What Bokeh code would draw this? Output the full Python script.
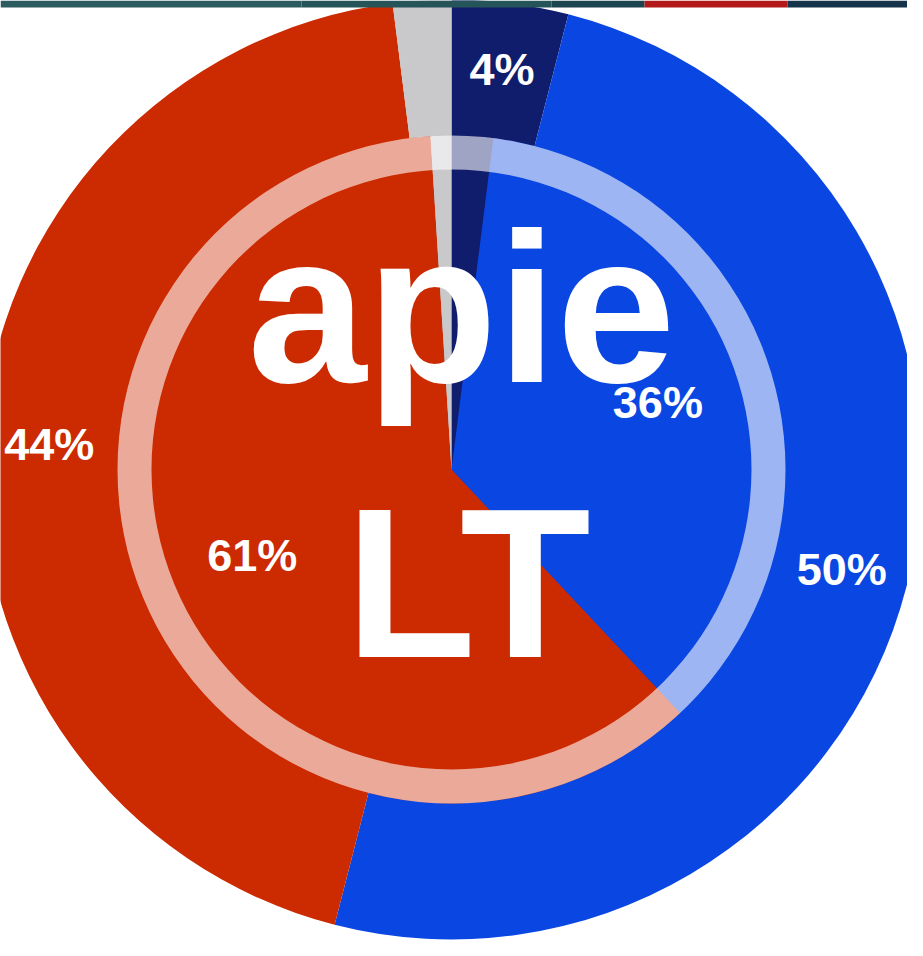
import math
from bokeh.plotting import figure
from bokeh.models import Range1d, ColumnDataSource
from bokeh.core.properties import value
from bokeh.embed import file_html
from bokeh.resources import INLINE

# ---- data ----
outer_names = ["Navy", "Blue", "Red", "Grey"]
outer_values = [4, 50, 44, 2]
outer_labels = ["4%", "50%", "44%", ""]
inner_names = ["Navy", "Blue", "Red", "Grey"]
inner_values = [2, 36, 61, 1]
inner_labels = ["", "36%", "61%", ""]
slice_colors = {"Navy": "#101c6c", "Blue": "#0a47e2", "Red": "#cc2a00", "Grey": "#c9c9cc"}
title_lines = ["apie", "LT"]

# ---- geometry (pixels, chart centre at origin) ----
R_OUT = 470
R_IN = 334
RING_IN = 300
LBL_OUT = 403
LBL_IN = 217
FONT = "Liberation Sans"


def wedges(values, names, labels, lbl_r):
    total = float(sum(values))
    starts, ends, cols, lx, ly, txt = [], [], [], [], [], []
    cum = 0.0
    for v, n, t in zip(values, names, labels):
        a0 = cum / total * 2 * math.pi
        cum += v
        a1 = cum / total * 2 * math.pi
        # clockwise from 12 o'clock -> math angles
        starts.append(math.pi / 2 - a1)
        ends.append(math.pi / 2 - a0)
        cols.append(slice_colors[n])
        mid = (a0 + a1) / 2
        lx.append(lbl_r * math.sin(mid))
        ly.append(lbl_r * math.cos(mid))
        txt.append(t)
    return (ColumnDataSource(dict(start=starts, end=ends, color=cols)),
            ColumnDataSource(dict(x=lx, y=ly, text=txt)))


p = figure(width=907, height=940, output_backend="svg", toolbar_location=None,
           x_range=Range1d(-451, 456), y_range=Range1d(-471, 469),
           min_border=0, outline_line_color=None, background_fill_color="white",
           border_fill_color="white")
p.axis.visible = False
p.grid.visible = False

osrc, olbl = wedges(outer_values, outer_names, outer_labels, LBL_OUT)
isrc, ilbl = wedges(inner_values, inner_names, inner_labels, LBL_IN)

p.wedge(x=0, y=0, radius=R_OUT, start_angle="start", end_angle="end",
        direction="anticlock", fill_color="color", line_color=None, source=osrc)
p.wedge(x=0, y=0, radius=R_IN, start_angle="start", end_angle="end",
        direction="anticlock", fill_color="color", line_color=None, source=isrc)
p.annulus(x=0, y=0, inner_radius=RING_IN, outer_radius=R_IN,
          fill_color="white", fill_alpha=0.6, line_color=None)

for src in (olbl, ilbl):
    p.text(x="x", y="y", text="text", source=src, text_color="white",
           text_font=value(FONT), text_font_style="bold",
           text_font_size="45px", text_align="center", text_baseline="middle")

# big overlay title
p.text(x=[10, 16.5], y=[162, -113], text=title_lines, text_color="white",
       text_font=value(FONT), text_font_style="bold",
       text_font_size="214px", text_align="center", text_baseline="alphabetic")

# decorative top strip
strip_left = [-451, -150, 100, 193, 336]
strip_right = [-150, 100, 193, 336, 456]
strip_cols = ["#2c5c5f", "#255459", "#1c4550", "#b4191a", "#15334a"]
p.quad(left=strip_left, right=strip_right, top=469, bottom=462,
       fill_color=strip_cols, line_color=None)

open("out.html", "w").write(file_html(p, INLINE))
